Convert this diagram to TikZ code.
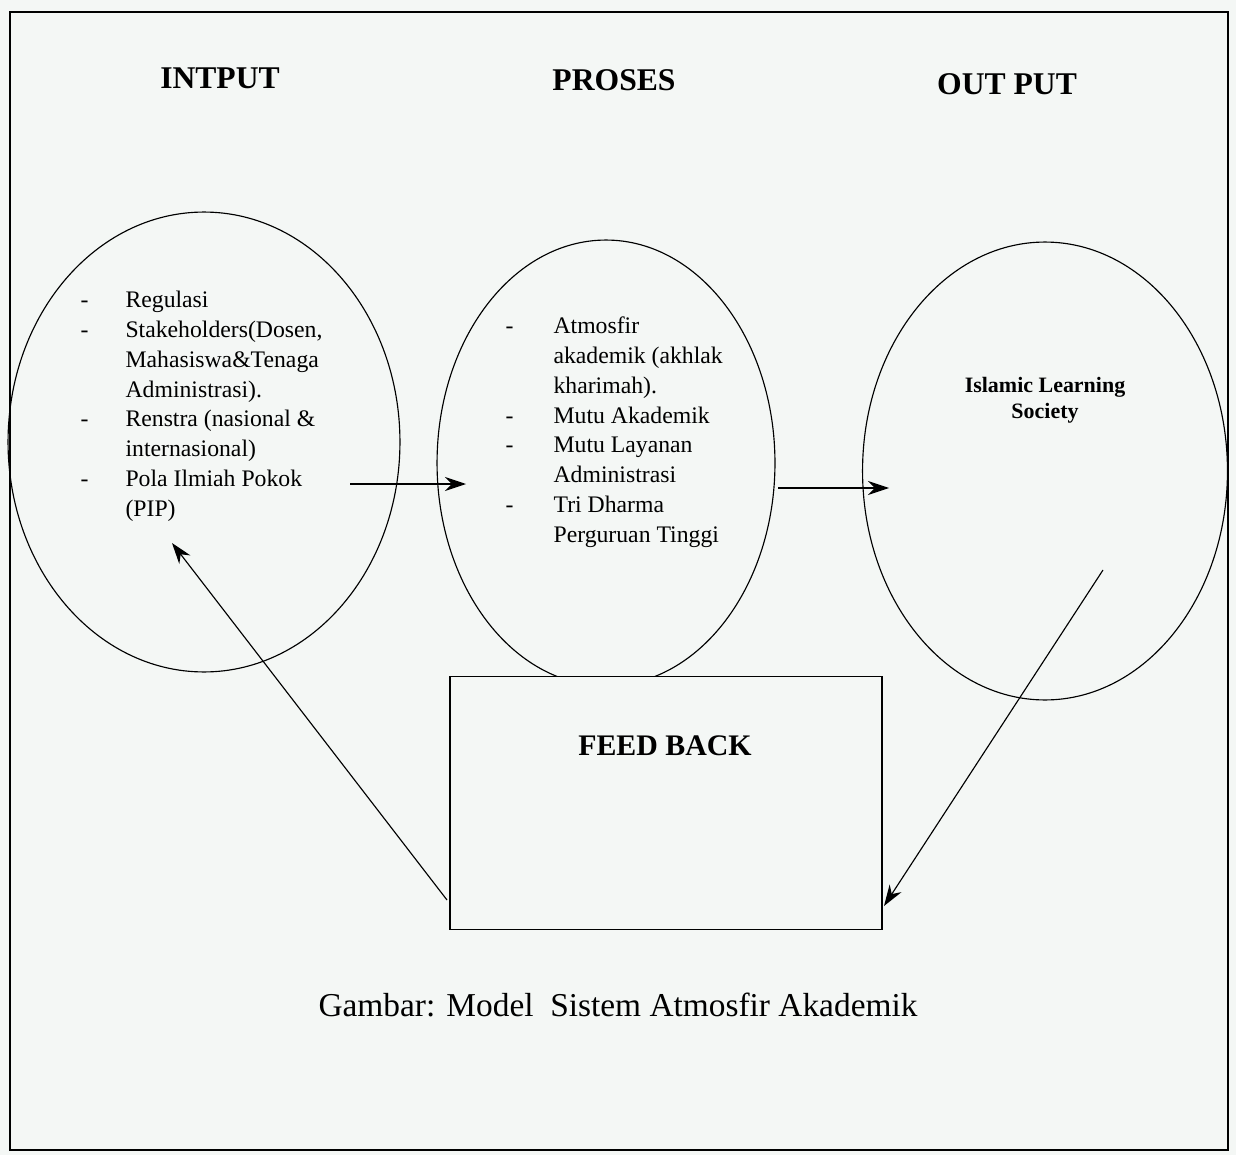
\documentclass[tikz,border=0pt]{standalone}
\usepackage{fontspec}
\setmainfont{Liberation Serif}
\usetikzlibrary{shapes.geometric, arrows.meta}
\definecolor{paper}{RGB}{244,247,245}

\begin{document}
\begin{tikzpicture}[x=0.02cm, y=-0.02cm, line width=0.65pt, >={Stealth[length=12pt,width=8pt]}]
\useasboundingbox (0,0) rectangle (1236,1155);
\fill[paper] (0,0) rectangle (1236,1155);
\draw[line width=1pt] (10,12) rectangle (1228,1150);
\node (hin) at (220,78) [font=\fontsize{18}{20}\selectfont\bfseries] {INTPUT};
\node (hpro) at (614,80) [font=\fontsize{18}{20}\selectfont\bfseries] {PROSES};
\node (hout) at (1007,84) [font=\fontsize{18}{20}\selectfont\bfseries] {OUT PUT};
\node (in) at (204,442) [ellipse, draw, minimum width=7.84cm, minimum height=9.2cm, inner sep=0] {};
\node (pro) at (606,463) [ellipse, draw, minimum width=6.76cm, minimum height=8.92cm, inner sep=0] {};
\node (out) at (1045,471) [ellipse, draw, minimum width=7.3cm, minimum height=9.16cm, inner sep=0] {};
\node (fb) at (666,803) [draw, fill=paper, minimum width=8.64cm, minimum height=5.06cm, inner sep=0] {};
\node (fbt) at (665,746) [font=\fontsize{17}{20}\selectfont\bfseries] {FEED BACK};
% isi lingkaran
\node (inlist) at (80,286) [anchor=north west, inner sep=0, font=\fontsize{13.5}{17}\selectfont]
  {\begin{tabular}{@{}p{0.9cm}@{}l@{}}
  - & Regulasi\\
  - & Stakeholders(Dosen,\\
    & Mahasiswa\&Tenaga\\
    & Administrasi).\\
  - & Renstra (nasional \&\\
    & internasional)\\
  - & Pola Ilmiah Pokok\\
    & (PIP)
  \end{tabular}};
\node (prolist) at (505,312) [anchor=north west, inner sep=0, font=\fontsize{13.5}{17}\selectfont]
  {\begin{tabular}{@{}p{0.96cm}@{}l@{}}
  - & Atmosfir\\
    & akademik (akhlak\\
    & kharimah).\\
  - & Mutu Akademik\\
  - & Mutu Layanan\\
    & Administrasi\\
  - & Tri Dharma\\
    & Perguruan Tinggi
  \end{tabular}};
\node (outtxt) at (1045,400) [align=center, font=\fontsize{12.5}{14.8}\selectfont\bfseries] {Islamic Learning\\Society};
\node (cap) at (618,1005) [font=\fontsize{19}{21}\selectfont] {Gambar: Model\ \ Sistem Atmosfir Akademik};
% panah
\coordinate (a1) at (350,484);
\coordinate (b1) at (466,484);
\coordinate (a2) at (778,488);
\coordinate (b2) at (889,488);
\coordinate (a3) at (1103,570);
\coordinate (b3) at (884,906);
\coordinate (a4) at (447,900);
\coordinate (b4) at (172,543);
\draw[->] (a1) -- (b1);
\draw[->] (a2) -- (b2);
\draw[->] (a3) -- (b3);
\draw[->] (a4) -- (b4);
\end{tikzpicture}
\end{document}
